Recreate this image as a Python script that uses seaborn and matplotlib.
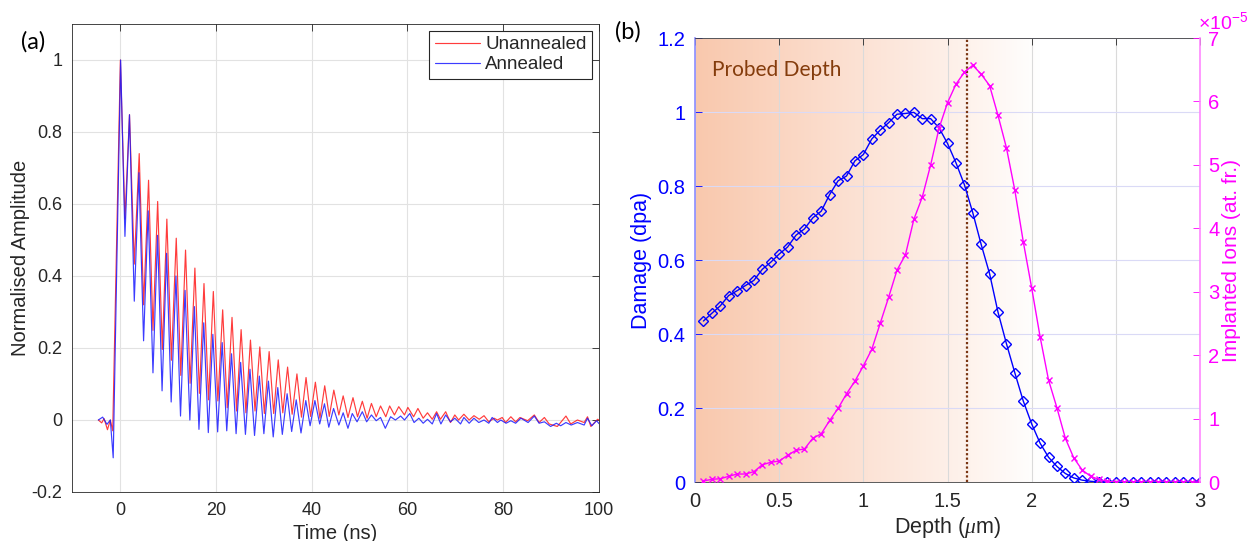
import numpy as np
import matplotlib
matplotlib.use('Agg')
import matplotlib.pyplot as plt
import seaborn as sns
from matplotlib.colors import LinearSegmentedColormap
from matplotlib.ticker import FuncFormatter

# ---------------- data: panel (a) ----------------
time_unannealed = [-4.5, -3.8, -3.3, -2.6, -2.0, -1.5, 0.1, 1.05, 2.0, 3.0, 4.03, 4.95, 5.98, 6.9, 7.88, 8.85,
                   9.8, 10.75, 11.76, 12.7, 13.7, 14.65, 15.65, 16.6, 17.55, 18.5, 19.5, 20.45, 21.45, 22.4,
                   23.4, 24.35, 25.3, 26.3, 27.25, 28.2, 29.2, 30.15, 31.15, 32.1, 33.05, 34.0, 35.0, 35.95,
                   36.95, 37.9, 38.85, 39.8, 40.8, 41.75, 42.75, 43.7, 44.65, 45.7, 46.6, 47.6, 48.65, 49.6,
                   50.6, 51.6, 52.5, 53.5, 54.4, 55.5, 56.3, 57.3, 58.2, 59.4, 60.1, 61.3, 62.2, 63.3, 64.2,
                   65.2, 66.1, 66.9, 68.0, 69.0, 69.9, 70.7, 71.8, 72.9, 73.9, 75.0, 76.0, 77.0, 78.1, 78.8,
                   79.8, 80.5, 81.6, 82.6, 83.5, 85.1, 86.5, 87.5, 88.6, 89.6, 91.3, 93.1, 94.1, 95.5, 96.9,
                   97.6, 98.3, 99.7, 100.0]
amp_unannealed = [0.0, -0.008, 0.004, -0.027, 0.0, -0.03, 1.0, 0.558, 0.848, 0.433, 0.74, 0.32, 0.666, 0.249,
                  0.607, 0.196, 0.558, 0.166, 0.505, 0.124, 0.472, 0.102, 0.422, 0.074, 0.379, 0.056, 0.357,
                  0.053, 0.306, 0.034, 0.285, 0.025, 0.251, 0.02, 0.222, 0.025, 0.203, 0.018, 0.19, 0.018,
                  0.167, 0.02, 0.147, 0.016, 0.128, 0.008, 0.118, 0.01, 0.105, 0.005, 0.095, 0.01, 0.083,
                  0.014, 0.067, 0.007, 0.062, 0.009, 0.052, 0.005, 0.046, 0.009, 0.039, 0.009, 0.039, 0.014,
                  0.037, 0.014, 0.035, 0.009, 0.032, 0.005, 0.02, 0.002, 0.023, 0.002, 0.023, -0.007, 0.014,
                  0.0, 0.016, 0.0, 0.012, 0.002, 0.012, -0.005, 0.005, 0.0, 0.007, -0.007, 0.009, -0.005,
                  0.007, -0.002, 0.014, -0.007, 0.007, -0.011, -0.018, 0.011, -0.011, 0.0, -0.007, 0.009,
                  -0.018, 0.002, 0.0]

time_annealed = [-4.5, -3.6, -2.7, -2.0, -1.4, 0.15, 1.05, 2.0, 3.0, 3.97, 4.94, 5.9, 6.9, 7.86, 8.8, 9.75,
                 10.7, 11.7, 12.65, 13.6, 14.6, 15.55, 16.5, 17.5, 18.45, 19.4, 20.4, 21.35, 22.3, 23.3,
                 24.25, 25.2, 26.2, 27.15, 28.1, 29.1, 30.05, 31.0, 32.0, 32.95, 33.9, 34.9, 35.85, 36.8,
                 37.8, 38.8, 39.7, 40.7, 41.7, 42.7, 43.6, 44.6, 45.7, 46.6, 47.6, 48.5, 49.5, 50.6, 51.5,
                 52.5, 53.5, 54.4, 55.4, 56.5, 57.5, 58.6, 59.4, 60.5, 61.4, 62.4, 63.3, 64.2, 65.2, 66.1,
                 67.0, 68.0, 69.0, 69.9, 71.1, 71.8, 72.9, 73.9, 74.9, 76.0, 77.0, 77.7, 78.8, 79.5, 80.6,
                 81.6, 82.6, 83.7, 85.2, 86.5, 87.5, 88.6, 89.9, 91.1, 92.0, 93.1, 94.2, 95.5, 96.9, 97.6,
                 98.5, 99.5, 100.0]
amp_annealed = [0.0, 0.008, -0.012, 0.0, -0.105, 1.0, 0.51, 0.848, 0.33, 0.687, 0.22, 0.581, 0.131, 0.513,
                0.081, 0.463, 0.05, 0.40, 0.011, 0.36, 0.0, 0.315, -0.026, 0.27, -0.035, 0.238, -0.033,
                0.215, -0.03, 0.184, -0.038, 0.16, -0.04, 0.141, -0.043, 0.122, -0.038, 0.108, -0.047,
                0.09, -0.04, 0.073, -0.032, 0.056, -0.036, 0.054, -0.016, 0.054, -0.011, 0.045, -0.02,
                0.032, -0.014, 0.02, -0.023, 0.018, -0.005, 0.023, -0.005, 0.014, -0.002, 0.007, -0.023,
                0.009, 0.0, 0.011, 0.0, 0.018, -0.007, 0.005, -0.009, 0.002, -0.011, 0.018, -0.011, 0.014,
                -0.005, 0.005, -0.011, 0.007, -0.009, 0.005, -0.007, 0.0, -0.009, 0.007, -0.007, 0.0,
                -0.009, -0.002, -0.009, 0.005, -0.007, 0.011, -0.009, -0.005, -0.018, -0.009, -0.016,
                -0.007, -0.014, -0.007, -0.014, 0.005, -0.016, -0.002, -0.01]

time_ticks = [0, 20, 40, 60, 80, 100]
amp_ticks = [-0.2, 0, 0.2, 0.4, 0.6, 0.8, 1]

# ---------------- data: panel (b) ----------------
depth_um = [0.05, 0.10, 0.15, 0.20, 0.25, 0.30, 0.35, 0.40, 0.45, 0.50, 0.55, 0.60, 0.65, 0.70, 0.75,
            0.80, 0.85, 0.90, 0.95, 1.00, 1.05, 1.10, 1.15, 1.20, 1.25, 1.30, 1.35, 1.40, 1.45, 1.50,
            1.55, 1.60, 1.65, 1.70, 1.75, 1.80, 1.85, 1.90, 1.95, 2.00, 2.05, 2.10, 2.15, 2.20, 2.25,
            2.30, 2.35, 2.40, 2.45, 2.50, 2.55, 2.60, 2.65, 2.70, 2.75, 2.80, 2.85, 2.90, 2.95, 3.00]
damage_dpa = [0.435, 0.456, 0.476, 0.504, 0.517, 0.531, 0.545, 0.575, 0.594, 0.616, 0.635, 0.667, 0.684,
              0.714, 0.732, 0.777, 0.814, 0.827, 0.868, 0.885, 0.927, 0.951, 0.971, 0.994, 0.996, 0.999,
              0.982, 0.982, 0.957, 0.915, 0.863, 0.804, 0.728, 0.642, 0.563, 0.459, 0.374, 0.295, 0.219,
              0.157, 0.105, 0.067, 0.042, 0.023, 0.011, 0.005, 0.002, 0, 0, 0, 0, 0, 0, 0, 0, 0, 0, 0, 0, 0]
ions_1e5 = [0.016, 0.042, 0.052, 0.089, 0.126, 0.126, 0.163, 0.273, 0.310, 0.331, 0.42, 0.50, 0.52, 0.69,
            0.76, 0.97, 1.16, 1.39, 1.59, 1.83, 2.09, 2.50, 2.91, 3.34, 3.58, 4.14, 4.49, 5.00, 5.58, 5.98,
            6.27, 6.46, 6.57, 6.43, 6.25, 5.78, 5.27, 4.60, 3.79, 3.06, 2.29, 1.61, 1.17, 0.69, 0.38, 0.19,
            0.09, 0.04, 0.01, 0, 0, 0, 0, 0, 0, 0, 0, 0, 0, 0]
probed_depth = 1.615
depth_ticks = [0, 0.5, 1, 1.5, 2, 2.5, 3]
damage_ticks = [0, 0.2, 0.4, 0.6, 0.8, 1, 1.2]
ion_ticks = [0, 1, 2, 3, 4, 5, 6, 7]

# ---------------- style ----------------
sns.set_style('white')
plt.rcParams['font.family'] = ['Liberation Sans', 'DejaVu Sans']
plt.rcParams['mathtext.fontset'] = 'custom'
plt.rcParams['mathtext.rm'] = 'Liberation Sans'
plt.rcParams['mathtext.it'] = 'Liberation Serif:italic'
plt.rcParams['mathtext.default'] = 'regular'

W, H = 1247, 541
fig = plt.figure(figsize=(W / 100, H / 100), dpi=100)
fig.patch.set_facecolor('white')
gfmt = FuncFormatter(lambda v, p: f'{v:g}')
dark = '#262626'

# ---------------- panel (a) ----------------
ax1 = fig.add_axes([72 / W, 1 - 492 / H, 527 / W, 468 / H])
sns.lineplot(x=time_unannealed, y=amp_unannealed, ax=ax1, color='#FF1A1A', lw=0.85, alpha=0.85,
             label='Unannealed', estimator=None, sort=False)
sns.lineplot(x=time_annealed, y=amp_annealed, ax=ax1, color='#1A1AFF', lw=0.85, alpha=0.85,
             label='Annealed', estimator=None, sort=False)
ax1.set_xlim(-10, 100)
ax1.set_ylim(-0.2, 1.1)
ax1.set_xticks(time_ticks)
ax1.set_yticks(amp_ticks)
ax1.xaxis.set_major_formatter(gfmt)
ax1.yaxis.set_major_formatter(gfmt)
ax1.tick_params(direction='in', length=5, width=0.6, top=True, right=True, labelsize=13,
                colors=dark, pad=7)
ax1.grid(True, color='#E2E2E2', lw=0.8)
for s in ax1.spines.values():
    s.set_color(dark)
    s.set_linewidth(0.6)
ax1.set_xlabel('Time (ns)', fontsize=14.5, color=dark, labelpad=4)
ax1.set_ylabel('Normalised Amplitude', fontsize=14.5, color=dark, labelpad=1)
leg = ax1.legend(loc='upper right', fontsize=13.5, frameon=True, fancybox=False, edgecolor=dark,
                 handlelength=2.4, borderaxespad=0.35, labelspacing=0.15, handletextpad=0.3,
                 borderpad=0.3, framealpha=1)
leg.get_frame().set_linewidth(0.8)

# ---------------- panel (b) ----------------
ax2 = fig.add_axes([695 / W, 1 - 482 / H, 505 / W, 444 / H])
cmap = LinearSegmentedColormap.from_list('probe', [(0.0, '#F9C8AD'), (0.5, '#FCE3D6'),
                                                   (0.8, '#FEF3ED'), (1.0, '#FFFFFF')])
grad = np.linspace(0, 1, 256)[None, :]
ax2.imshow(grad, extent=[0, 2.05, 0, 1.2], aspect='auto', cmap=cmap, zorder=0,
           interpolation='bilinear')
ax2.set_xlim(0, 3)
ax2.set_ylim(0, 1.2)
ax2.grid(axis='x', color='#DADADA', lw=0.8)
ax2.grid(axis='y', color='#DADAF6', lw=0.8)
ax2.axvline(probed_depth, color='#7A3512', ls=(0, (1, 1)), lw=1.6, zorder=2)
sns.lineplot(x=depth_um, y=damage_dpa, ax=ax2, color='#0000FF', lw=1.0, marker='D', markersize=5.5,
             markerfacecolor='none', markeredgecolor='#0000FF', markeredgewidth=1.0,
             estimator=None, sort=False, zorder=3)
ax2.text(0.1, 1.113, 'Probed Depth', family=['Lato', 'DejaVu Sans'], fontsize=15, color='#843C0C',
         va='center', ha='left')

ax3 = ax2.twinx()
sns.lineplot(x=depth_um, y=ions_1e5, ax=ax3, color='#FF00FF', lw=1.0, marker='x', markersize=5,
             markeredgecolor='#FF00FF', markeredgewidth=1.0, estimator=None, sort=False)
ax3.set_ylim(0, 7)
ax3.set_xlim(0, 3)

ax2.set_xticks(depth_ticks)
ax2.set_yticks(damage_ticks)
ax3.set_yticks(ion_ticks)
ax2.xaxis.set_major_formatter(gfmt)
ax2.yaxis.set_major_formatter(gfmt)
ax3.yaxis.set_major_formatter(gfmt)
ax2.tick_params(axis='x', direction='in', length=5, width=0.6, top=True, labelsize=14.5,
                colors=dark, pad=7)
ax2.tick_params(axis='y', direction='in', length=5, width=0.6, left=True, right=False,
                labelsize=14.5, colors='#0000FF', pad=7)
ax3.tick_params(axis='y', direction='in', length=5, width=0.6, right=True, left=False,
                labelsize=14.5, colors='#FF00FF', pad=6)
ax2.spines['left'].set_color('#8C8CFF')
ax2.spines['left'].set_linewidth(1.2)
ax2.spines['right'].set_visible(False)
ax2.spines['top'].set_color('#404040')
ax2.spines['bottom'].set_color('#404040')
ax2.spines['top'].set_linewidth(0.6)
ax2.spines['bottom'].set_linewidth(0.6)
for k in ['left', 'top', 'bottom']:
    ax3.spines[k].set_visible(False)
ax3.spines['right'].set_color('#FF88FF')
ax3.spines['right'].set_linewidth(1.2)

ax2.set_xlabel(r'Depth ($\mathit{\mu}$m)', fontsize=15.5, color=dark, labelpad=3)
ax2.set_ylabel('Damage (dpa)', fontsize=15.5, color='#0000FF', labelpad=4)
ax3.set_ylabel('Implanted Ions (at. fr.)', fontsize=15, color='#FF00FF', labelpad=2)
ax3.text(0.996, 1.012, r'$\times10^{-5}$', transform=ax3.transAxes, color='#FF00FF', fontsize=14,
         ha='left', va='bottom')

# panel labels
fig.text(33 / W, 1 - 42 / H, '(a)', ha='center', va='center', family=['Lato', 'DejaVu Sans'],
         fontsize=17, color='black')
fig.text(628 / W, 1 - 32 / H, '(b)', ha='center', va='center', family=['Lato', 'DejaVu Sans'],
         fontsize=17, color='black')

fig.savefig('out.png', dpi=100)
